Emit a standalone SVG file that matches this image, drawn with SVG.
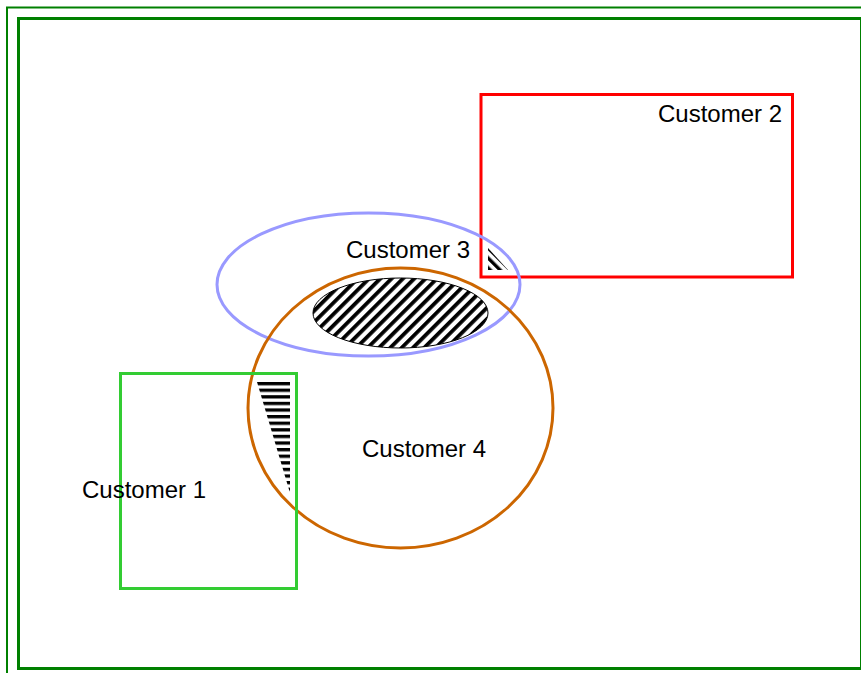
<svg xmlns="http://www.w3.org/2000/svg" width="861" height="673" viewBox="0 0 861 673">
  <style>
    .frame { fill: none; stroke: #008000; }
    .shape { fill: none; stroke-width: 3; }
    .label { font-family: "Liberation Sans", Arial, sans-serif; font-size: 24px; fill: #000; }
  </style>
  <defs>
    <pattern id="diagStripes" width="8" height="8" patternUnits="userSpaceOnUse" patternTransform="rotate(45)">
      <rect width="8" height="8" fill="#fff"/>
      <rect width="3.8" height="8" fill="#000"/>
    </pattern>
    <pattern id="backStripes" width="7" height="7" patternUnits="userSpaceOnUse" patternTransform="rotate(-45)">
      <rect width="3.4" height="7" fill="#000"/>
    </pattern>
    <pattern id="rowStripes" width="7" height="6.6" patternUnits="userSpaceOnUse" patternTransform="translate(0,382)">
      <rect width="7" height="3.3" fill="#000"/>
    </pattern>
  </defs>

  <rect width="861" height="673" fill="#fff"/>

  <!-- double page frame -->
  <rect class="frame" x="7" y="7.5" width="900" height="700" stroke-width="2"/>
  <rect class="frame" x="18.5" y="18.5" width="843" height="650" stroke-width="3"/>

  <g id="customer2">
    <rect class="shape" x="481" y="94.5" width="311.5" height="182.5" stroke="#ff0000"/>
    <text class="label" x="782" y="122" text-anchor="end">Customer 2</text>
  </g>

  <g id="customer3">
    <ellipse class="shape" cx="368.5" cy="284.5" rx="151.5" ry="71.5" stroke="#9999ff"/>
    <text class="label" x="470" y="258" text-anchor="end">Customer 3</text>
  </g>

  <g id="customer4">
    <ellipse class="shape" cx="400.5" cy="408" rx="152.5" ry="140" stroke="#cc6600"/>
    <text class="label" x="362" y="457">Customer 4</text>
  </g>

  <g id="customer1">
    <rect class="shape" x="120.5" y="373.5" width="176" height="215" stroke="#33cc33"/>
    <text class="label" x="82" y="498">Customer 1</text>
  </g>

  <!-- overlap markers -->
  <g id="overlap34">
    <ellipse cx="400.5" cy="313" rx="87.5" ry="35" fill="url(#diagStripes)" stroke="#000" stroke-width="1"/>
  </g>
  <g id="overlap23">
    <polygon points="488,248 488,270 508,270" fill="url(#backStripes)"/>
  </g>
  <g id="overlap14">
    <polygon points="257,382 290,382 290,493" fill="url(#rowStripes)"/>
  </g>
</svg>
